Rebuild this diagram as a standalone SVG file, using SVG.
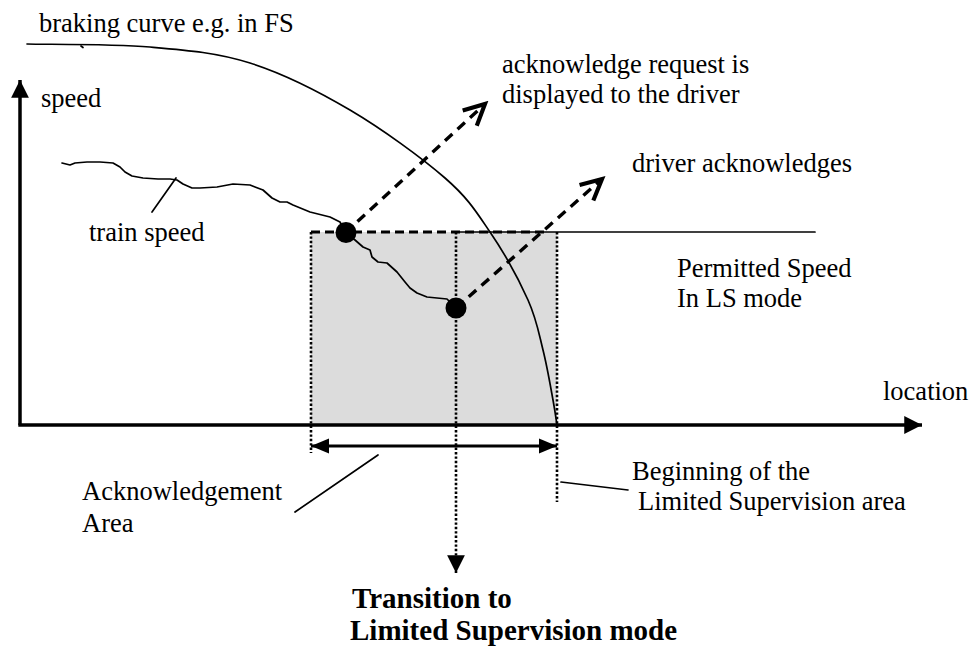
<svg xmlns="http://www.w3.org/2000/svg" width="974" height="649" viewBox="0 0 974 649">
<style>
  .lbl { font-family: 'Liberation Serif', 'DejaVu Serif', serif; font-size: 26.5px; fill: #000; }
  .bold { font-weight: bold; font-size: 29px; }
  .thin { fill: none; stroke: #000; stroke-width: 1.7; stroke-linejoin: round; stroke-linecap: round; }
  .axis { fill: none; stroke: #000; stroke-width: 3.5; }
  .dotted { fill: none; stroke: #000; stroke-width: 2.6; stroke-dasharray: 2.4 2; }
  .dashed { fill: none; stroke: #000; stroke-width: 3.4; stroke-dasharray: 10 7; }
  .dashedh { fill: none; stroke: #000; stroke-width: 3.2; stroke-dasharray: 9 5; }
  .dim { fill: none; stroke: #000; stroke-width: 3; }
</style>
<defs>
  <marker id="solidHead" markerUnits="userSpaceOnUse" markerWidth="20" markerHeight="20" viewBox="-17 -9 18 18" refX="0" refY="0" orient="auto">
    <path d="M0,0 L-16,-8 L-16,8 Z" fill="#000" stroke="none"/>
  </marker>
  <marker id="dimHead" markerUnits="userSpaceOnUse" markerWidth="20" markerHeight="20" viewBox="-19 -9 20 18" refX="0" refY="0" orient="auto-start-reverse">
    <path d="M0,0 L-18,-7.5 L-18,7.5 Z" fill="#000" stroke="none"/>
  </marker>
  <marker id="openHead" markerUnits="userSpaceOnUse" markerWidth="30" markerHeight="30" viewBox="-22 -13 26 26" refX="0" refY="0" orient="auto">
    <path d="M-18,-9 L0,0 L-18,9" fill="none" stroke="#000" stroke-width="3.6" stroke-dasharray="none" stroke-linejoin="miter"/>
  </marker>
</defs>

<g id="lsArea">
  <rect x="311" y="232" width="246" height="193" fill="#dcdcdc"/>
</g>

<g id="brakingCurve">
  <path class="thin" d="M27,44 C47.5,44.5 112.8,43.8 150,47 C187.2,50.2 216.7,52.5 250,63 C283.3,73.5 317.5,90.8 350,110 C382.5,129.2 421.7,157.7 445,178 C468.3,198.3 476.2,211.7 490,232 C503.8,252.3 519.2,280.3 528,300 C536.8,319.7 538.8,333.3 543,350 C547.2,366.7 550.7,387.5 553,400 C555.3,412.5 556.3,420.8 557,425"/>
  <path class="thin" d="M81,46 L83,47.5"/>
</g>

<g id="permittedSpeed">
  <line class="thin" x1="456" y1="232" x2="815" y2="232"/>
</g>

<g id="connectors">
  <line class="dotted" x1="311" y1="232" x2="311" y2="453"/>
  <line class="dotted" x1="557" y1="232" x2="557" y2="502"/>
  <line class="dotted" x1="456" y1="232" x2="456" y2="573" marker-end="url(#solidHead)"/>
  <line class="dashedh" x1="311" y1="232" x2="548" y2="232"/>
  <line class="dashed" x1="345" y1="233" x2="485" y2="104" marker-end="url(#openHead)"/>
  <line class="dashed" x1="456" y1="308" x2="602" y2="179" marker-end="url(#openHead)"/>
  <line class="dim" x1="311" y1="446" x2="557" y2="446" marker-start="url(#dimHead)" marker-end="url(#dimHead)"/>
  <path class="thin" d="M378,455 L295,512"/>
  <path class="thin" d="M561,482 L628,490"/>
  <path class="thin" d="M176,178 L152,212"/>
</g>

<g id="axes">
  <line class="axis" x1="20" y1="425" x2="20" y2="80" marker-end="url(#solidHead)"/>
  <line class="axis" x1="18.3" y1="425" x2="922" y2="425" marker-end="url(#solidHead)"/>
</g>

<g id="trainSpeed">
  <path class="thin" d="M62,163 L70,165 L75,163 L87,162 L100,162 L113,163 L120,167 L125,172 L132,176 L143,178 L158,179 L170,179 L177,180 L183,184 L192,188 L200,188 L217,187 L233,184 L250,185 L263,190 L272,198 L280,202 L287,202 L293,205 L310,212 L330,217 L340,222 L345,232 L355,240 L363,247 L370,250 L372,257 L378,262 L387,263 L397,272 L405,282 L410,288 L417,293 L427,297 L437,298 L447,299 L456,308"/>
</g>

<g id="events">
  <circle cx="346" cy="232.5" r="10.5" fill="#000"/>
  <circle cx="456" cy="308" r="10.5" fill="#000"/>
</g>

<g id="labels" font-family="'Liberation Serif', 'DejaVu Serif', serif">
  <text class="lbl" x="39" y="32">braking curve e.g. in FS</text>
  <text class="lbl" x="41" y="107">speed</text>
  <text class="lbl" x="89" y="241">train speed</text>
  <text class="lbl" x="502" y="73">acknowledge request is</text>
  <text class="lbl" x="502" y="103">displayed to the driver</text>
  <text class="lbl" x="632" y="172">driver acknowledges</text>
  <text class="lbl" x="677" y="277">Permitted Speed</text>
  <text class="lbl" x="677" y="307">In LS mode</text>
  <text class="lbl" x="883" y="400">location</text>
  <text class="lbl" x="632" y="480">Beginning of the</text>
  <text class="lbl" x="638" y="510">Limited Supervision area</text>
  <text class="lbl" x="82" y="500">Acknowledgement</text>
  <text class="lbl" x="82" y="532">Area</text>
  <text class="lbl bold" x="352" y="608">Transition to</text>
  <text class="lbl bold" x="350" y="640">Limited Supervision mode</text>
</g>
</svg>
